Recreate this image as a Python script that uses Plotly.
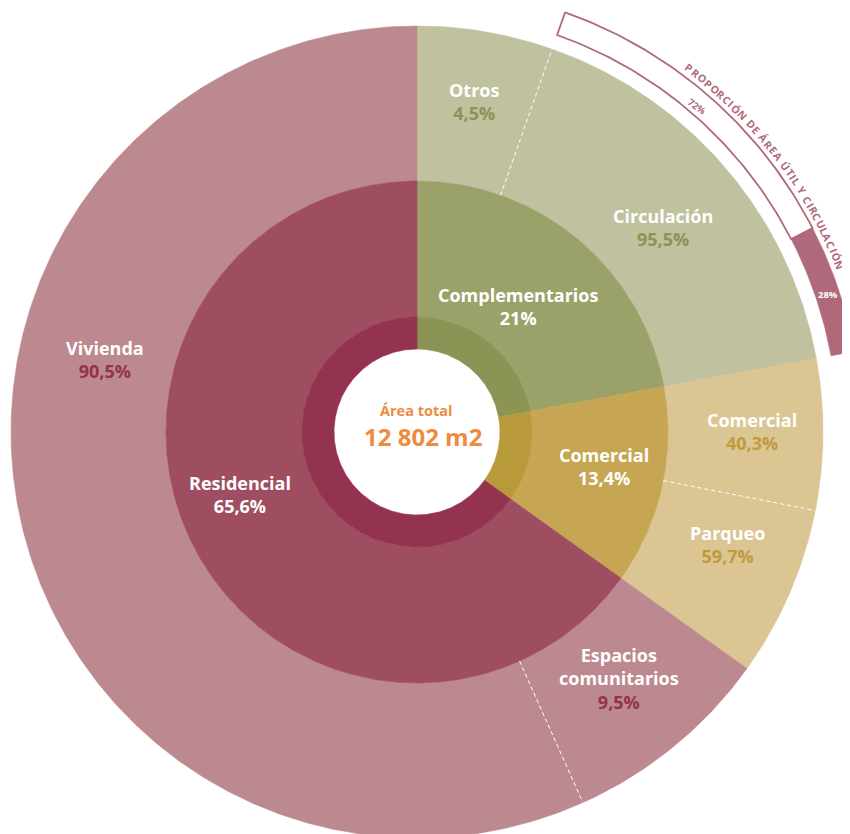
import numpy as np
import plotly.graph_objects as go

# anillo central: grupos de uso
grupos = ["Complementarios", "Comercial", "Residencial"]
grupos_pct = ["21%", "13,4%", "65,6%"]
grupos_arco = [22.1, 12.8, 65.1]      # porcion del circulo tal como esta dibujada

# anillo exterior: subdivision de cada grupo
sub_grupo = ["Complementarios", "Complementarios", "Comercial", "Comercial", "Residencial", "Residencial"]
sub_nombres = ["Otros", "Circulación", "Comercial", "Parqueo", "Espacios<br>comunitarios", "Vivienda"]
sub_pct = ["4,5%", "95,5%", "40,3%", "59,7%", "9,5%", "90,5%"]
sub_arco = [5.4, 16.7, 6.0, 6.8, 8.4, 56.7]

# proporcion de area util y circulacion (sobre el arco de Circulación)
prop_etiquetas = ["72%", "28%"]
prop_valores = [72, 28]
prop_titulo = "PROPORCIÓN DE ÁREA ÚTIL Y CIRCULACIÓN"

area_titulo = "Área total"
area_valor = "12 802 m2"

# estilos
col_claro = {"Complementarios": "#c0c19e", "Comercial": "#dbc593", "Residencial": "#bd8991"}
col_medio = {"Complementarios": "#9ba269", "Comercial": "#c7a653", "Residencial": "#9e4e60"}
col_oscuro = {"Complementarios": "#8b9455", "Comercial": "#b99a3a", "Residencial": "#93334f"}
col_pct = {"Complementarios": "#8b9455", "Comercial": "#bf9b3e", "Residencial": "#93334f"}
col_prop = "#b0697a"
naranja = "#ef8a3f"
FUENTE = "Open Sans"

R_HUECO, R_INT, R_MED, R_EXT = 83, 115, 251, 406
R_P0, R_P1, R_TXT = 421, 445, 454

# posiciones de etiquetas en pixeles de la imagen (centro en 417, 432)
pos_grupos = [(518, 306), (604, 466), (240, 494)]
pos_sub = [(474, 101), (663, 227), (752, 431), (727, 544), (619, 678), (105, 359)]

# la pagina deja 8 px de margen alrededor del grafico
OFF = 8


def px(p):
    return p[0] - 417, 432 - p[1]


def sector(a0, a1, r0, r1):
    n = max(int(abs(a1 - a0) * 2), 3)
    t = np.radians(np.linspace(a0, a1, n))
    x = np.concatenate([r1 * np.sin(t), r0 * np.sin(t[::-1])])
    y = np.concatenate([r1 * np.cos(t), r0 * np.cos(t[::-1])])
    return np.append(x, x[0]), np.append(y, y[0])


fig = go.Figure()


def relleno(x, y, color):
    fig.add_trace(go.Scatter(x=x, y=y, mode="lines", fill="toself", fillcolor=color,
                             line=dict(color=color, width=0.6), hoverinfo="skip"))


# anillo exterior
a_sub = np.concatenate([[0], np.cumsum(sub_arco)]) * 3.6
for i, g in enumerate(sub_grupo):
    x, y = sector(a_sub[i], a_sub[i + 1], R_MED, R_EXT)
    relleno(x, y, col_claro[g])

# anillo central y anillo oscuro interior
a_gr = np.concatenate([[0], np.cumsum(grupos_arco)]) * 3.6
for i, g in enumerate(grupos):
    x, y = sector(a_gr[i], a_gr[i + 1], R_INT, R_MED)
    relleno(x, y, col_medio[g])
    x, y = sector(a_gr[i], a_gr[i + 1], R_HUECO, R_INT)
    relleno(x, y, col_oscuro[g])

# lineas discontinuas entre subdivisiones del mismo grupo
for i in range(len(sub_grupo) - 1):
    if sub_grupo[i] == sub_grupo[i + 1]:
        t = np.radians(a_sub[i + 1])
        fig.add_trace(go.Scatter(x=[R_MED * np.sin(t), R_EXT * np.sin(t)],
                                 y=[R_MED * np.cos(t), R_EXT * np.cos(t)],
                                 mode="lines", line=dict(color="white", width=1, dash="4px,3px"),
                                 hoverinfo="skip"))

# arco de proporcion sobre Circulación
i_circ = sub_nombres.index("Circulación")
p0, p1 = a_sub[i_circ], a_sub[i_circ + 1]
a_prop = p0 + np.concatenate([[0], np.cumsum(prop_valores)]) / sum(prop_valores) * (p1 - p0)
x, y = sector(a_prop[0], a_prop[1], R_P0, R_P1)
fig.add_trace(go.Scatter(x=x, y=y, mode="lines", line=dict(color=col_prop, width=1.8), hoverinfo="skip"))
x, y = sector(a_prop[1], a_prop[2], R_P0, R_P1)
relleno(x, y, col_prop)

# etiquetas
anot = []
for i, g in enumerate(grupos):
    x, y = px(pos_grupos[i])
    anot.append(dict(x=x, y=y, text=f"{g}<br>{grupos_pct[i]}", showarrow=False,
                     font=dict(family=FUENTE, size=18, color="white", weight="bold")))
for i, n in enumerate(sub_nombres):
    x, y = px(pos_sub[i])
    c = col_pct[sub_grupo[i]]
    anot.append(dict(x=x, y=y, text=f"{n}<br><span style='color:{c}'>{sub_pct[i]}</span>",
                     showarrow=False,
                     font=dict(family=FUENTE, size=18, color="white", weight="bold")))

x, y = px((416, 410))
anot.append(dict(x=x, y=y, text=area_titulo, showarrow=False,
                 font=dict(family=FUENTE, size=14.5, color=naranja, weight="bold")))
x, y = px((423, 436))
anot.append(dict(x=x, y=y, text=area_valor, showarrow=False,
                 font=dict(family=FUENTE, size=24, color=naranja, weight="bold")))

# porcentajes del arco de proporcion
for lab, ang, r, col, rot in [(prop_etiquetas[0], 40.7, 429, col_prop, 35),
                              (prop_etiquetas[1], 71.5, 433, "white", 0)]:
    t = np.radians(ang)
    anot.append(dict(x=r * np.sin(t), y=r * np.cos(t), text=lab, showarrow=False, textangle=rot,
                     font=dict(family=FUENTE, size=9.5, color=col, weight="bold")))

# titulo curvo sobre el arco
anchos = {" ": 0.32, "I": 0.36, "L": 0.56, "T": 0.6, "Y": 0.62, "E": 0.58, "P": 0.64, "R": 0.68,
          "D": 0.74, "C": 0.66, "A": 0.72, "Á": 0.72, "U": 0.76, "Ú": 0.76, "N": 0.78, "O": 0.8, "Ó": 0.8}
w = np.array([anchos.get(ch, 0.7) for ch in prop_titulo])
centros = np.cumsum(w) - w / 2
ang = 36.8 + (centros - centros[0]) / (centros[-1] - centros[0]) * (68.4 - 36.8)
for ch, a in zip(prop_titulo, ang):
    if ch == " ":
        continue
    t = np.radians(a)
    anot.append(dict(x=R_TXT * np.sin(t), y=R_TXT * np.cos(t), text=ch, showarrow=False,
                     textangle=a, font=dict(family=FUENTE, size=10.5, color=col_prop, weight="bold")))

fig.update_layout(
    width=850, height=834,
    margin=dict(l=0, r=0, t=0, b=0),
    paper_bgcolor="white", plot_bgcolor="white",
    showlegend=False,
    xaxis=dict(range=[OFF - 417, OFF - 417 + 850], visible=False, fixedrange=True),
    yaxis=dict(range=[432 - OFF - 834, 432 - OFF], visible=False, fixedrange=True),
    annotations=anot,
)

fig.write_html("out.html")
